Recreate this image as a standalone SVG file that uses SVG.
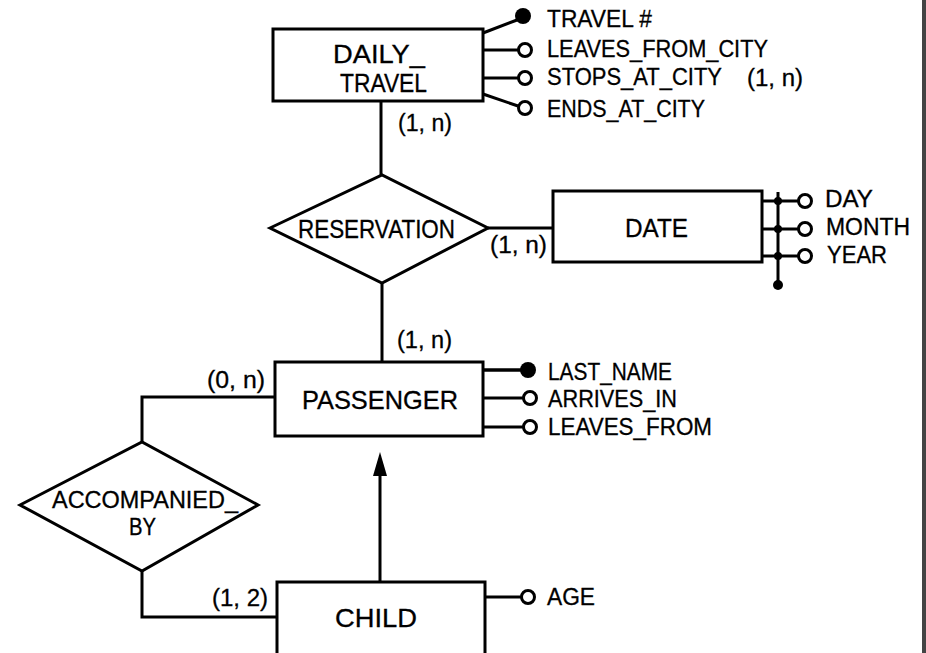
<svg xmlns="http://www.w3.org/2000/svg" width="926" height="653" viewBox="0 0 926 653">
<defs>
<style>
.box{fill:#fff;stroke:#000;stroke-width:3}
.rel{fill:#fff;stroke:#000;stroke-width:3}
.ln{fill:none;stroke:#000;stroke-width:3}
.oc{fill:#fff;stroke:#000;stroke-width:3}
.fc{fill:#000}
.lbl{font-family:"Liberation Sans",Arial,sans-serif;font-size:25px;fill:#000;stroke:#000;stroke-width:0.3}
.att{font-family:"Liberation Sans",Arial,sans-serif;font-size:23px;fill:#000;stroke:#000;stroke-width:0.3}
</style>
</defs>
<rect width="926" height="653" fill="#fff"/>
<rect x="922" y="0" width="4" height="653" fill="#444"/>

<g id="connectors">
<line class="ln" x1="381" y1="101" x2="381" y2="175"/>
<line class="ln" x1="488" y1="228" x2="553" y2="228"/>
<line class="ln" x1="382" y1="283" x2="382" y2="362"/>
<polyline class="ln" points="275,397 142,397 142,442"/>
<polyline class="ln" points="142,571 142,617 277,617"/>
<path class="ln" d="M380,582 L380,474"/>
<path d="M380,452 L387,476 L373,476 Z" fill="#000"/>
<text class="att" x="398" y="131" textLength="54" lengthAdjust="spacingAndGlyphs">(1, n)</text>
<text class="att" x="490" y="253" textLength="57" lengthAdjust="spacingAndGlyphs">(1, n)</text>
<text class="att" x="397" y="348" textLength="55" lengthAdjust="spacingAndGlyphs">(1, n)</text>
<text class="att" x="207" y="388" textLength="58" lengthAdjust="spacingAndGlyphs">(0, n)</text>
<text class="att" x="212" y="606" textLength="56" lengthAdjust="spacingAndGlyphs">(1, 2)</text>
</g>

<g id="daily_travel">
<rect class="box" x="273" y="29" width="210" height="72"/>
<text class="lbl" x="333" y="63" textLength="92" lengthAdjust="spacingAndGlyphs">DAILY_</text>
<text class="lbl" x="340" y="92" textLength="87" lengthAdjust="spacingAndGlyphs">TRAVEL</text>
<line class="ln" x1="483" y1="33" x2="517" y2="20"/>
<circle class="fc" cx="523" cy="16" r="8"/>
<line class="ln" x1="483" y1="50" x2="518" y2="50"/>
<circle class="oc" cx="525" cy="50" r="6.5"/>
<line class="ln" x1="483" y1="78" x2="518" y2="78"/>
<circle class="oc" cx="525" cy="78" r="6.5"/>
<line class="ln" x1="483" y1="94" x2="518" y2="106"/>
<circle class="oc" cx="525" cy="108" r="6.5"/>
<text class="att" x="547" y="27" textLength="105" lengthAdjust="spacingAndGlyphs">TRAVEL #</text>
<text class="att" x="547" y="57" textLength="221" lengthAdjust="spacingAndGlyphs">LEAVES_FROM_CITY</text>
<text class="att" x="547" y="85" textLength="175" lengthAdjust="spacingAndGlyphs">STOPS_AT_CITY</text>
<text class="att" x="747" y="86" textLength="56" lengthAdjust="spacingAndGlyphs">(1, n)</text>
<text class="att" x="547" y="117" textLength="158" lengthAdjust="spacingAndGlyphs">ENDS_AT_CITY</text>
</g>

<g id="reservation">
<polygon class="rel" points="270,228 382,175 488,228 382,283"/>
<text class="lbl" x="298" y="238" textLength="157" lengthAdjust="spacingAndGlyphs">RESERVATION</text>
</g>

<g id="date">
<rect class="box" x="553" y="191" width="209" height="71"/>
<text class="lbl" x="625" y="237" textLength="63" lengthAdjust="spacingAndGlyphs">DATE</text>
<line class="ln" x1="778" y1="192" x2="778" y2="285"/>
<circle class="fc" cx="778" cy="285" r="5"/>
<line class="ln" x1="762" y1="201" x2="798" y2="201"/>
<line class="ln" x1="762" y1="229" x2="798" y2="229"/>
<line class="ln" x1="762" y1="256" x2="798" y2="256"/>
<circle class="fc" cx="778" cy="201" r="4"/>
<circle class="fc" cx="778" cy="229" r="4"/>
<circle class="fc" cx="778" cy="256" r="4"/>
<circle class="oc" cx="805" cy="201" r="6.5"/>
<circle class="oc" cx="805" cy="229" r="6.5"/>
<circle class="oc" cx="805" cy="256" r="6.5"/>
<text class="att" x="825" y="207" textLength="48" lengthAdjust="spacingAndGlyphs">DAY</text>
<text class="att" x="826" y="235" textLength="84" lengthAdjust="spacingAndGlyphs">MONTH</text>
<text class="att" x="827" y="263" textLength="60" lengthAdjust="spacingAndGlyphs">YEAR</text>
</g>

<g id="passenger">
<rect class="box" x="275" y="362" width="208" height="74"/>
<text class="lbl" x="302" y="409" textLength="156" lengthAdjust="spacingAndGlyphs">PASSENGER</text>
<line class="ln" x1="483" y1="370" x2="522" y2="370" style="stroke-width:3.5"/>
<circle class="fc" cx="528" cy="370" r="8"/>
<line class="ln" x1="483" y1="398" x2="523" y2="398"/>
<circle class="oc" cx="530" cy="398" r="6.5"/>
<line class="ln" x1="483" y1="427" x2="523" y2="427"/>
<circle class="oc" cx="530" cy="427" r="6.5"/>
<text class="att" x="548" y="380" textLength="124" lengthAdjust="spacingAndGlyphs">LAST_NAME</text>
<text class="att" x="548" y="407" textLength="129" lengthAdjust="spacingAndGlyphs">ARRIVES_IN</text>
<text class="att" x="548" y="435" textLength="164" lengthAdjust="spacingAndGlyphs">LEAVES_FROM</text>
</g>

<g id="accompanied_by">
<polygon class="rel" points="20,505 142,442 258,505 142,571"/>
<text class="att" x="52" y="508" textLength="186" lengthAdjust="spacingAndGlyphs">ACCOMPANIED_</text>
<text class="att" x="129" y="535" textLength="27" lengthAdjust="spacingAndGlyphs">BY</text>
</g>

<g id="child">
<rect class="box" x="277" y="582" width="208" height="80"/>
<text class="lbl" x="335" y="627" textLength="82" lengthAdjust="spacingAndGlyphs">CHILD</text>
<line class="ln" x1="485" y1="597" x2="521" y2="597"/>
<circle class="oc" cx="528" cy="597" r="6.5"/>
<text class="att" x="547" y="605" textLength="48" lengthAdjust="spacingAndGlyphs">AGE</text>
</g>
</svg>
